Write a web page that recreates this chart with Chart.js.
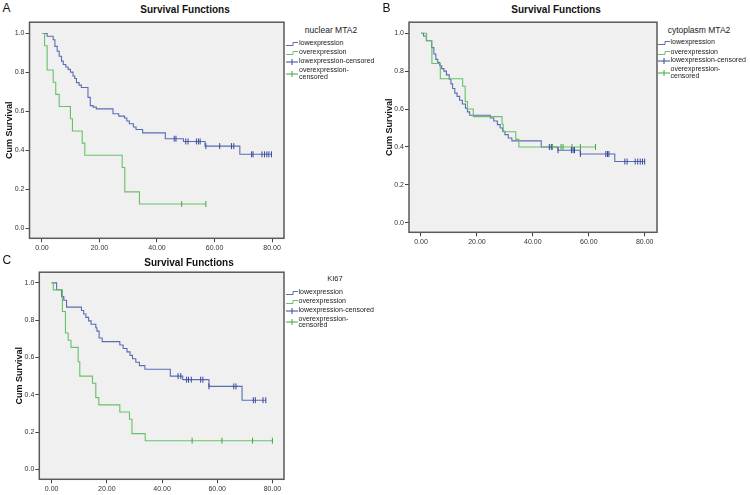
<!DOCTYPE html>
<html><head><meta charset="utf-8">
<script src="https://cdn.jsdelivr.net/npm/chart.js@4.4.1/dist/chart.umd.min.js"></script>
<style>
body{margin:0;background:#fff;width:750px;height:495px;position:relative;overflow:hidden;font-family:'Liberation Sans',Arial,sans-serif;}
canvas{position:absolute;}
.t{position:absolute;white-space:nowrap;color:#111;line-height:1;}
.lg{position:absolute;white-space:pre;color:#1a1a1a;font-size:7px;line-height:6.5px;}
svg{position:absolute;overflow:visible;}
</style></head><body>
<script>
// ---------- text ----------
const panelLetters = ['A', 'B', 'C'];
const chartTitle = 'Survival Functions';
const yAxisTitle = 'Cum Survival';
const legendTitles = ['nuclear MTA2', 'cytoplasm MTA2', 'KI67'];
const legendLabels = ['lowexpression', 'overexpression', 'lowexpression-censored', 'overexpression-\ncensored'];
const xTicks = [0, 20, 40, 60, 80];
const xTickLabels = ['0.00', '20.00', '40.00', '60.00', '80.00'];
const yTicks = [0, 0.2, 0.4, 0.6, 0.8, 1.0];
const yTickLabels = ['0.0', '0.2', '0.4', '0.6', '0.8', '1.0'];

// ---------- Panel A: nuclear MTA2 ----------
const aLowT = [0, 1.8, 3.9, 4.5, 5.3, 6.0, 6.8, 7.4, 8.3, 9.1, 9.9, 10.8, 11.4, 12.0, 12.9, 13.7, 16.0, 16.8, 17.8, 18.9, 24.7, 26.7, 28.7, 29.5, 30.4, 31.8, 32.7, 35.0, 42.9, 49.2, 56.7, 68.8, 79.8];
const aLowS = [1.0, 0.986, 0.968, 0.934, 0.909, 0.883, 0.858, 0.841, 0.828, 0.816, 0.802, 0.782, 0.769, 0.748, 0.735, 0.723, 0.672, 0.630, 0.622, 0.613, 0.588, 0.576, 0.566, 0.551, 0.537, 0.520, 0.507, 0.490, 0.460, 0.446, 0.422, 0.380, 0.380];
const aLowCensT = [46.0, 46.6, 50.0, 50.8, 53.7, 54.4, 55.0, 57.0, 61.8, 65.9, 66.7, 72.9, 73.4, 76.5, 77.4, 78.2, 78.9, 79.8];
const aLowCensS = [0.460, 0.460, 0.446, 0.446, 0.446, 0.446, 0.446, 0.422, 0.422, 0.422, 0.422, 0.380, 0.380, 0.380, 0.380, 0.380, 0.380, 0.380];
const aHighT = [0, 0.9, 1.8, 3.9, 4.8, 6.0, 9.9, 10.6, 14.0, 14.9, 27.9, 28.8, 33.9, 57.0];
const aHighS = [1.0, 0.9375, 0.8125, 0.75, 0.6875, 0.625, 0.5625, 0.5, 0.4375, 0.375, 0.3125, 0.1875, 0.125, 0.125];
const aHighCensT = [48.6, 57.0];
const aHighCensS = [0.125, 0.125];

// ---------- Panel B: cytoplasm MTA2 ----------
const bLowT = [0, 0.9, 1.9, 3.8, 4.6, 5.3, 6.0, 6.7, 7.4, 8.2, 9.1, 10.1, 10.7, 11.3, 12.1, 12.9, 13.8, 14.8, 15.9, 16.6, 17.4, 24.8, 26.0, 27.3, 28.3, 29.2, 30.0, 31.2, 32.5, 43.0, 49.0, 57.0, 69.3, 80.0];
const bLowS = [1.0, 0.985, 0.96, 0.924, 0.89, 0.862, 0.845, 0.828, 0.813, 0.80, 0.78, 0.757, 0.733, 0.708, 0.684, 0.667, 0.646, 0.627, 0.605, 0.585, 0.567, 0.553, 0.537, 0.518, 0.50, 0.482, 0.465, 0.447, 0.432, 0.40, 0.383, 0.363, 0.323, 0.323];
const bLowCensT = [45.9, 46.6, 49.0, 53.8, 54.4, 54.9, 57.0, 66.1, 66.7, 67.2, 72.9, 73.7, 76.6, 77.5, 78.4, 79.2, 80.0];
const bLowCensS = [0.40, 0.40, 0.383, 0.383, 0.383, 0.383, 0.363, 0.363, 0.363, 0.363, 0.323, 0.323, 0.323, 0.323, 0.323, 0.323, 0.323];
const bHighT = [0, 2.0, 3.9, 6.9, 14.9, 15.8, 16.6, 18.7, 29.0, 29.4, 33.9, 35.0, 62.4];
const bHighS = [1.0, 0.96, 0.84, 0.76, 0.72, 0.64, 0.60, 0.56, 0.52, 0.48, 0.44, 0.40, 0.40];
const bHighCensT = [47.0, 50.1, 50.8, 54.0, 57.0, 62.4];
const bHighCensS = [0.40, 0.40, 0.40, 0.40, 0.40, 0.40];

// ---------- Panel C: KI67 ----------
const cLowT = [0, 1.8, 3.6, 4.4, 5.4, 10.8, 11.6, 12.4, 13.4, 14.3, 16.0, 16.4, 17.2, 18.3, 24.7, 25.9, 27.3, 28.4, 29.3, 30.5, 31.8, 33.8, 43.0, 47.5, 57.0, 69.0, 77.6];
const cLowS = [1.0, 0.963, 0.926, 0.907, 0.87, 0.852, 0.833, 0.815, 0.796, 0.778, 0.759, 0.741, 0.704, 0.685, 0.667, 0.648, 0.63, 0.611, 0.593, 0.574, 0.556, 0.537, 0.50, 0.481, 0.445, 0.371, 0.371];
const cLowCensT = [45.8, 46.8, 48.9, 49.6, 50.6, 54.0, 54.8, 57.0, 66.0, 66.8, 73.1, 73.8, 76.6, 77.6];
const cLowCensS = [0.50, 0.50, 0.481, 0.481, 0.481, 0.481, 0.481, 0.445, 0.445, 0.445, 0.371, 0.371, 0.371, 0.371];
const cHighT = [0, 0.6, 3.9, 5.0, 6.0, 7.0, 9.6, 10.2, 14.8, 16.0, 17.1, 24.7, 28.2, 29.1, 33.9, 80.0];
const cHighS = [1.0, 0.962, 0.846, 0.731, 0.692, 0.654, 0.577, 0.50, 0.462, 0.385, 0.346, 0.308, 0.269, 0.192, 0.154, 0.154];
const cHighCensT = [50.9, 61.7, 72.8, 80.0];
const cHighCensS = [0.154, 0.154, 0.154, 0.154];

// ---------- styling / layout ----------
const F = "'Liberation Sans', Arial, sans-serif";
const BLUE = '#5a6cb3', BLUE_C = '#36489e', GREEN = '#68c068', GREEN_C = '#3fa83f';

const panels = [
  {id:'A', rect:{l:29.5,t:20.7,r:285,b:238.3}, xr:[-4.33,84.16], yr:[-0.051,1.058],
   low:[aLowT,aLowS], high:[aHighT,aHighS], lowC:[aLowCensT,aLowCensS], highC:[aHighCensT,aHighCensS],
   letter:{x:2.5,y:1.7}, title:{cx:185,top:4.8},
   legend:{titleCx:331,titleTop:25.5,titleSize:8.5,iconX:285.5,iconW:12,textX:299,ys:[43.5,53.2,61.5,71.3]}},
  {id:'B', rect:{l:409,t:20.7,r:657.3,b:232.3}, xr:[-4.29,84.4], yr:[-0.05,1.058],
   low:[bLowT,bLowS], high:[bHighT,bHighS], lowC:[bLowCensT,bLowCensS], highC:[bHighCensT,bHighCensS],
   letter:{x:382.5,y:1.7}, title:{cx:556,top:4.8},
   legend:{titleCx:699,titleTop:25.5,titleSize:8.5,iconX:657.5,iconW:12,textX:670.5,ys:[43.3,52.7,61.3,70.3]}},
  {id:'C', rect:{l:39.3,t:270.8,r:285,b:479.3}, xr:[-4.48,84.2], yr:[-0.053,1.057],
   low:[cLowT,cLowS], high:[cHighT,cHighS], lowC:[cLowCensT,cLowCensS], highC:[cHighCensT,cHighCensS],
   letter:{x:2.5,y:253.5}, title:{cx:189,top:258.3},
   legend:{titleCx:335,titleTop:274.5,titleSize:7.5,iconX:285.5,iconW:12,textX:298.5,ys:[292.7,302,311,319.5]}}
];

const framePlugin = {
  id:'frame',
  beforeDraw(ch){const a=ch.chartArea,ctx=ch.ctx;ctx.save();ctx.fillStyle='#f0f0f0';ctx.fillRect(a.left,a.top,a.right-a.left,a.bottom-a.top);ctx.restore();},
  afterDraw(ch){const a=ch.chartArea,ctx=ch.ctx;ctx.save();ctx.strokeStyle='#5a5a5a';ctx.lineWidth=1.5;ctx.strokeRect(a.left,a.top,a.right-a.left,a.bottom-a.top);ctx.restore();}
};

function pts(T,S){return T.map((t,i)=>({x:t,y:S[i]}));}

function addText(txt,left,top,style){
  const d=document.createElement('div');d.className='t';d.textContent=txt;
  d.style.left=left+'px';d.style.top=top+'px';Object.assign(d.style,style||{});
  document.body.appendChild(d);return d;
}

function icon(x,y,w,color,kind){
  const s=document.createElementNS('http://www.w3.org/2000/svg','svg');
  s.setAttribute('width',w);s.setAttribute('height',8);
  s.style.left=x+'px';s.style.top=(y-4)+'px';
  let d;
  if(kind==='line'){const m=Math.round(w*0.6);d=`M0 5.5 H${m} V2.5 H${w}`;}
  else {const m=w/2;d=`M0 4 H${w} M${m} 1 V7`;}
  s.innerHTML=`<path d="${d}" fill="none" stroke="${color}" stroke-width="1"/>`;
  document.body.appendChild(s);
}

panels.forEach(p=>{
  const r=p.rect;
  const cl=Math.round(r.l-29.5), ct=Math.round(r.t-4);
  const yW=r.l-cl, padT=r.t-ct, xH=17;
  const W=Math.ceil(r.r+4-cl), H=Math.ceil(r.b+xH+1-ct);
  const padR=W-(r.r-cl), padB=H-xH-(r.b-ct);
  const c=document.createElement('canvas');
  c.width=W;c.height=H;c.style.left=cl+'px';c.style.top=ct+'px';c.style.width=W+'px';c.style.height=H+'px';
  document.body.appendChild(c);
  new Chart(c,{
    type:'scatter',
    data:{datasets:[
      {data:pts(p.lowC[0],p.lowC[1]),showLine:false,pointStyle:'line',rotation:90,pointRadius:3,pointBorderWidth:1,borderColor:BLUE_C,backgroundColor:BLUE_C},
      {data:pts(p.highC[0],p.highC[1]),showLine:false,pointStyle:'line',rotation:90,pointRadius:3,pointBorderWidth:1,borderColor:GREEN_C,backgroundColor:GREEN_C},
      {data:pts(p.high[0],p.high[1]),showLine:true,stepped:true,borderColor:GREEN,borderWidth:1.1,pointRadius:0,fill:false},
      {data:pts(p.low[0],p.low[1]),showLine:true,stepped:true,borderColor:BLUE,borderWidth:1.1,pointRadius:0,fill:false}
    ]},
    options:{
      responsive:false,animation:false,devicePixelRatio:1,
      layout:{padding:{left:0,top:padT,right:padR,bottom:padB}},
      plugins:{legend:{display:false},title:{display:false},tooltip:{enabled:false}},
      scales:{
        x:{type:'linear',min:p.xr[0],max:p.xr[1],
          afterBuildTicks:s=>{s.ticks=xTicks.map(v=>({value:v}));},
          afterFit:s=>{s.height=xH;},
          ticks:{autoSkip:false,maxRotation:0,padding:2,color:'#333',font:{size:7,family:F},callback:(v,i)=>xTickLabels[i]},
          grid:{drawOnChartArea:false,drawTicks:true,tickLength:4,color:'#444',lineWidth:1},
          border:{display:false}},
        y:{type:'linear',min:p.yr[0],max:p.yr[1],
          afterBuildTicks:s=>{s.ticks=yTicks.map(v=>({value:v}));},
          afterFit:s=>{s.width=yW;},
          ticks:{autoSkip:false,padding:1,color:'#333',font:{size:7,family:F},callback:(v,i)=>yTickLabels[i]},
          grid:{drawOnChartArea:false,drawTicks:true,tickLength:4,color:'#444',lineWidth:1},
          border:{display:false},
          title:{display:true,text:yAxisTitle,color:'#111',font:{size:9,weight:'bold',family:F},padding:{top:4,bottom:0}}}
      }
    },
    plugins:[framePlugin]
  });

  // panel letter & title
  const i=panels.indexOf(p);
  addText(panelLetters[i],p.letter.x,p.letter.y,{fontSize:'12px',color:'#111'});
  addText(chartTitle,p.title.cx,p.title.top,{fontSize:'10px',fontWeight:'bold',transform:'translateX(-50%)'});
  // legend
  const L=p.legend;
  addText(legendTitles[i],L.titleCx,L.titleTop,{fontSize:L.titleSize+'px',color:'#222',transform:'translateX(-50%)'});
  const cols=[BLUE,GREEN,BLUE_C,GREEN_C], kinds=['line','line','cens','cens'];
  legendLabels.forEach((lab,k)=>{
    const y=L.ys[k];
    const d=document.createElement('div');d.className='lg';d.textContent=lab;
    d.style.left=L.textX+'px';d.style.top=(y-3.9)+'px';
    document.body.appendChild(d);
    icon(L.iconX,k===3?y+2.8:y,L.iconW,cols[k],kinds[k]);
  });
});
</script>
</body></html>
